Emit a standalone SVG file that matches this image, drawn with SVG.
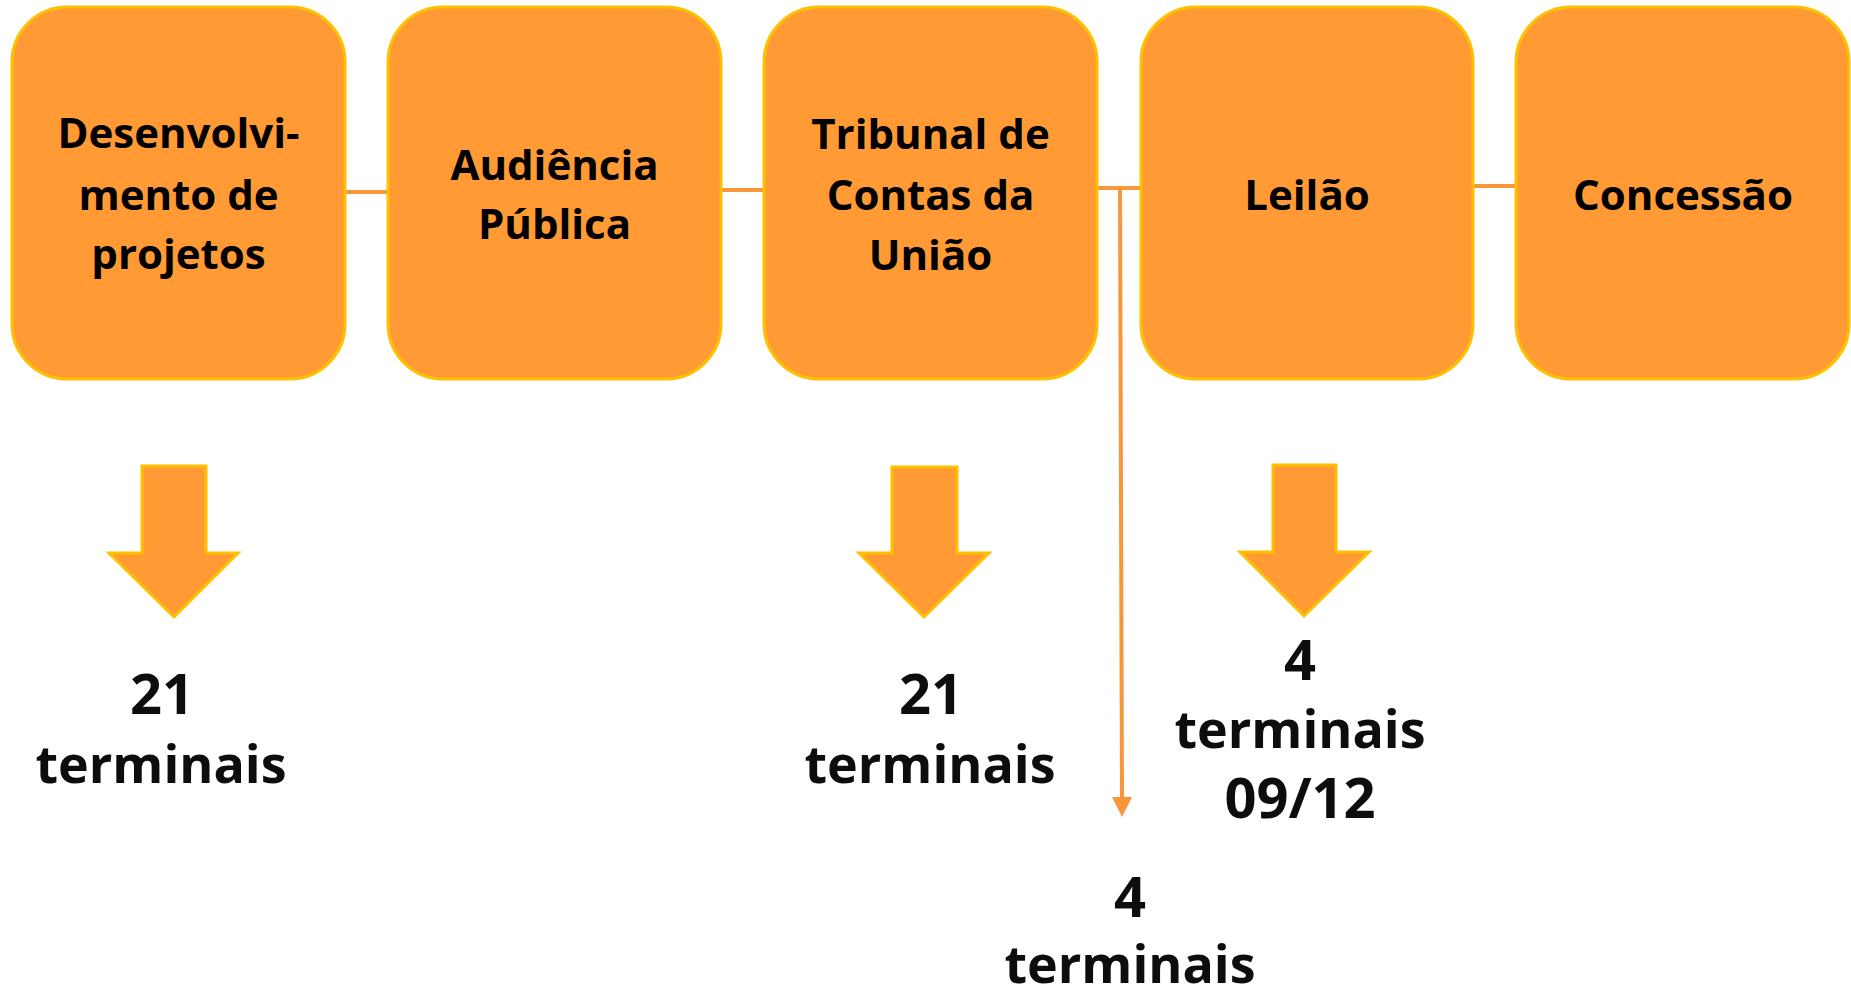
<svg xmlns="http://www.w3.org/2000/svg" width="1851" height="990" viewBox="0 0 1851 990">
<style>
.box{fill:#FF9A35;stroke:#FFC000;stroke-width:3}
.bt{font-family:"Open Sans","Liberation Sans",sans-serif;font-weight:bold;font-size:42px;fill:#000;text-anchor:middle}
.lt{font-family:"Open Sans","Liberation Sans",sans-serif;font-weight:bold;font-size:52px;fill:#0D0D0D;text-anchor:middle}
.dt{font-family:"Open Sans","Liberation Sans",sans-serif;font-weight:bold;font-size:56px;fill:#0D0D0D;text-anchor:middle}
.con{stroke:#F9963A;stroke-width:4;fill:none}
.arr{fill:#FF9A35;stroke:#FFC000;stroke-width:3}
</style>
<rect width="1851" height="990" fill="#FFFFFF"/>
<g id="connectors">
<line class="con" x1="345" y1="192" x2="388" y2="192"/>
<line class="con" x1="721" y1="190" x2="764" y2="190"/>
<line class="con" x1="1098" y1="188" x2="1141" y2="188"/>
<line class="con" x1="1473" y1="186" x2="1516" y2="186"/>
<line class="con" x1="1120" y1="190" x2="1122" y2="800"/>
<path d="M1112,797 L1132,797 L1122,817 Z" fill="#F9963A"/>
</g>
<g id="node-desenvolvimento">
<rect class="box" x="12" y="7" width="333" height="372" rx="55" ry="55"/>
<text class="bt" x="178.5" y="148">Desenvolvi-</text>
<text class="bt" x="178.5" y="210">mento de</text>
<text class="bt" x="178.5" y="269">projetos</text>
</g>
<g id="node-audiencia">
<rect class="box" x="388" y="7" width="333" height="372" rx="55" ry="55"/>
<text class="bt" x="554.5" y="180">Audiência</text>
<text class="bt" x="554.5" y="239">Pública</text>
</g>
<g id="node-tribunal">
<rect class="box" x="764" y="7" width="333" height="372" rx="55" ry="55"/>
<text class="bt" x="930.5" y="149">Tribunal de</text>
<text class="bt" x="930.5" y="210">Contas da</text>
<text class="bt" x="930.5" y="270">União</text>
</g>
<g id="node-leilao">
<rect class="box" x="1141" y="7" width="332" height="372" rx="55" ry="55"/>
<text class="bt" x="1307" y="210">Leilão</text>
</g>
<g id="node-concessao">
<rect class="box" x="1516" y="7" width="333" height="372" rx="55" ry="55"/>
<text class="bt" x="1683" y="210">Concessão</text>
</g>
<g id="arrow-1">
<path class="arr" d="M142,466 L206,466 L206,553 L238,553 L174,617 L109,553 L142,553 Z"/>
</g>
<g id="arrow-2">
<path class="arr" d="M892,467 L957,467 L957,553 L989,553 L924,617 L859,553 L892,553 Z"/>
</g>
<g id="arrow-3">
<path class="arr" d="M1273,465 L1336,465 L1336,552 L1369,552 L1304,616 L1240,552 L1273,552 Z"/>
</g>
<g id="label-1">
<text class="dt" x="162" y="714">21</text>
<text class="lt" x="161" y="783">terminais</text>
</g>
<g id="label-2">
<text class="dt" x="931" y="714">21</text>
<text class="lt" x="930" y="783">terminais</text>
</g>
<g id="label-3">
<text class="dt" x="1300" y="680">4</text>
<text class="lt" x="1300" y="748">terminais</text>
<text class="dt" x="1300" y="818">09/12</text>
</g>
<g id="label-4">
<text class="dt" x="1130" y="917">4</text>
<text class="lt" x="1130" y="983">terminais</text>
</g>
</svg>
